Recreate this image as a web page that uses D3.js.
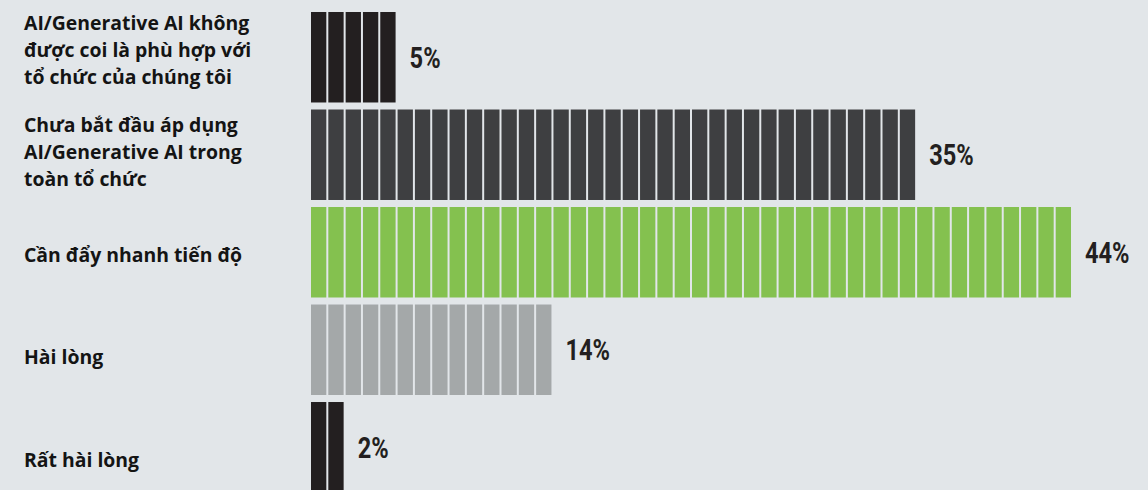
<!DOCTYPE html>
<html>
<head>
<meta charset="utf-8">
<script src="https://cdn.jsdelivr.net/npm/d3@7"></script>
<style>
  html, body { margin: 0; padding: 0; background: #e2e6e9; }
  svg { display: block; }
</style>
</head>
<body>
<svg id="chart" width="1148" height="490"></svg>
<script>
const categories = [
  "AI/Generative AI không được coi là phù hợp với tổ chức của chúng tôi",
  "Chưa bắt đầu áp dụng AI/Generative AI trong toàn tổ chức",
  "Cần đẩy nhanh tiến độ",
  "Hài lòng",
  "Rất hài lòng"
];
const labelLines = [
  ["AI/Generative AI không", "được coi là phù hợp với", "tổ chức của chúng tôi"],
  ["Chưa bắt đầu áp dụng", "AI/Generative AI trong", "toàn tổ chức"],
  ["Cần đẩy nhanh tiến độ"],
  ["Hài lòng"],
  ["Rất hài lòng"]
];
const values = [5, 35, 44, 14, 2];
const valueLabels = ["5%", "35%", "44%", "14%", "2%"];
const colors = ["#231f20", "#3e3f41", "#84c14f", "#a4a8a9", "#231f20"];

const svg = d3.select("#chart");
const W = 1148, H = 490;

svg.append("rect").attr("width", W).attr("height", H).attr("fill", "#e2e6e9");

const x = d3.scaleLinear().domain([0, 44]).range([311, 1073]);
const y = d3.scaleBand().domain(categories).range([12, 492.5]).paddingInner(0.072).paddingOuter(0);
const labelY = d3.scalePoint().domain(categories).range([50, 460]);

const unitW = x(1) - x(0);
const gap = 2;

const rows = svg.selectAll("g.row")
  .data(categories.map((c, i) => ({ c, i, v: values[i], lab: valueLabels[i], col: colors[i], lines: labelLines[i] })))
  .enter().append("g").attr("class", "row");

rows.each(function(d) {
  const g = d3.select(this);
  const units = d3.range(d.v);
  g.selectAll("rect.unit").data(units).enter().append("rect")
    .attr("class", "unit")
    .attr("x", k => x(k))
    .attr("y", y(d.c))
    .attr("width", unitW - gap)
    .attr("height", y.bandwidth())
    .attr("fill", d.col);

  const tx = x(d.v) + 12;
  const ty = y(d.c) + y.bandwidth() / 2;
  g.append("text")
    .attr("transform", `translate(${tx},${ty}) scale(0.8,1)`)
    .attr("dy", "0.36em")
    .attr("font-family", "Roboto, 'Liberation Sans', sans-serif")
    .attr("font-weight", "bold")
    .attr("font-size", 29.5)
    .attr("fill", "#231f20")
    .text(d.lab);

  const lh = 27;
  const n = d.lines.length;
  const cy = labelY(d.c);
  const t = g.append("text")
    .attr("font-family", "'Open Sans', 'Noto Sans', sans-serif")
    .attr("font-weight", "bold")
    .attr("font-size", 19.4)
    .attr("fill", "#141414");
  d.lines.forEach((ln, j) => {
    t.append("tspan")
      .attr("x", 24)
      .attr("y", cy + (j - (n - 1) / 2) * lh)
      .attr("dy", "0.35em")
      .text(ln);
  });
});
</script>
</body>
</html>
